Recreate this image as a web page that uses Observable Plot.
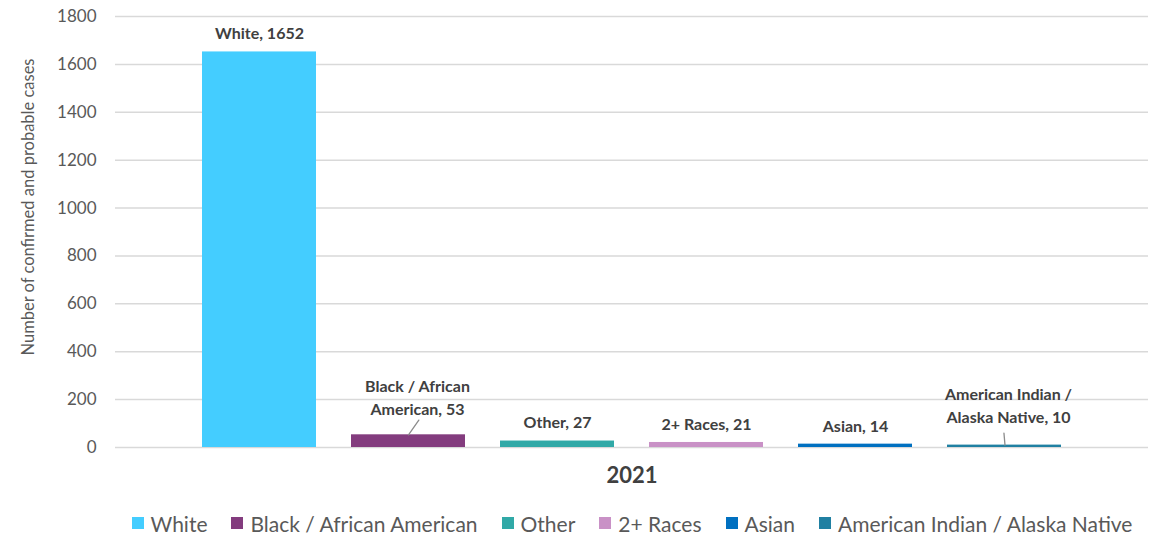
<!DOCTYPE html>
<html>
<head>
<meta charset="utf-8">
<script src="https://cdn.jsdelivr.net/npm/d3@7"></script>
<script src="https://cdn.jsdelivr.net/npm/@observablehq/plot@0.6"></script>
<style>
  html, body { margin: 0; padding: 0; background: #fff; }
  #chart { width: 1155px; }
  .legend { display: flex; justify-content: center; align-items: center; gap: 24px; box-sizing: border-box;
            width: 1155px; padding-left: 109px;
            height: 36px; font-family: Lato, "Open Sans", sans-serif; font-size: 21px; color: #595959; }
  .legend .item { display: flex; align-items: center; white-space: nowrap; }
  .legend .sw { display: inline-block; width: 12px; height: 12px; margin-right: 7px; }
</style>
</head>
<body>
<div id="chart"></div>
<script>
// ---- data ----
const races = ["White", "Black / African American", "Other", "2+ Races", "Asian", "American Indian / Alaska Native"];
const cases = [1652, 53, 27, 21, 14, 10];
const labelTexts = ["White, 1652", "Black / African\nAmerican, 53", "Other, 27", "2+ Races, 21", "Asian, 14", "American Indian /\nAlaska Native, 10"];
const colors = ["#44CDFF", "#833C7E", "#31A9A7", "#C991C6", "#0070C0", "#2080A2"];
const yTicks = [0, 200, 400, 600, 800, 1000, 1200, 1400, 1600, 1800];
const yearLabel = "2021";
const yTitle = "Number of confirmed and probable cases";

// ---- layout (styles/positions kept out of data) ----
const labelDx = [0, 9, 0, 0, 0, 4];
const labelDy = [-20, -39, -20, -20, -20, -41];
const leaderIdx = [1, 5];
const leaderStyle = [
  {rotate: 35, length: 18, dx: 0},
  {rotate: -5, length: 12, dx: 0.5}
];

const data = races.map((r, i) => ({race: r, value: cases[i], label: labelTexts[i]}));

const lineShape = { draw(context, l) { context.moveTo(0, 0); context.lineTo(0, -l); } };

const labelMarks = data.map((d, i) => Plot.text([d], {
  x: "race", y: "value", text: "label", dx: labelDx[i], dy: labelDy[i],
  lineAnchor: "middle", lineHeight: 1.45, fontWeight: "bold", fontSize: 16, fill: "#404040"
}));

const leaderMarks = leaderIdx.map((idx, k) => Plot.vector([data[idx]], {
  x: "race", y: "value", dx: leaderStyle[k].dx, rotate: leaderStyle[k].rotate, length: leaderStyle[k].length,
  anchor: "start", shape: lineShape, stroke: "#8C8C8C", strokeWidth: 1.3
}));

const chart = Plot.plot({
  width: 1155,
  height: 505,
  marginTop: 16,
  marginBottom: 58,
  marginLeft: 115,
  marginRight: 7,
  style: { fontFamily: "Lato, 'Open Sans', sans-serif", fontSize: "17px", color: "#595959", background: "#fff" },
  x: { type: "band", domain: races, range: [184.5, 1079.5], paddingInner: 0.2326, paddingOuter: 0.1163, axis: null },
  y: { domain: [0, 1800], ticks: yTicks, label: null },
  color: { domain: races, range: colors },
  marks: [
    Plot.ruleY(yTicks, { stroke: "#D9D9D9", strokeWidth: 1.5 }),
    Plot.axisY({ ticks: yTicks, tickSize: 0, tickPadding: 19, label: null, fontSize: 17, tickFormat: d => String(d) }),
    Plot.barY(data, { x: "race", y: "value", fill: "race" }),
    ...labelMarks,
    ...leaderMarks,
    Plot.text([yearLabel], { frameAnchor: "bottom", text: d => d, dy: 35, fontWeight: "bold", fontSize: 22, fill: "#404040" }),
    Plot.text([yTitle], { frameAnchor: "left", text: d => d, textAnchor: "middle", rotate: -90, dx: -87, dy: -25, fontSize: 16.5, fill: "#595959" })
  ]
});

const root = document.getElementById("chart");
root.appendChild(chart);

const legend = document.createElement("div");
legend.className = "legend";
races.forEach((r, i) => {
  const item = document.createElement("span");
  item.className = "item";
  const sw = document.createElement("span");
  sw.className = "sw";
  sw.style.background = colors[i];
  item.appendChild(sw);
  item.appendChild(document.createTextNode(r));
  legend.appendChild(item);
});
root.appendChild(legend);
</script>
</body>
</html>
